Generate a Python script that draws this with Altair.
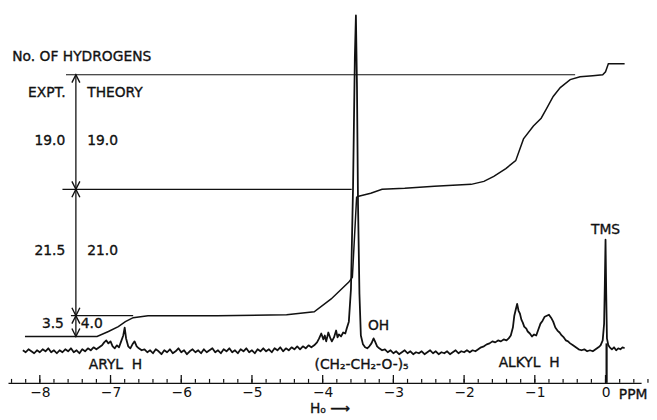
import altair as alt
import pandas as pd

INK = "#111111"
FONT = "DejaVu Sans"

# ---- spectrum trace (chemical shift in ppm, signal height in arbitrary units) ----
spec_ppm = [
    -8.24, -8.20, -8.16, -8.12, -8.08, -8.04, -8.00, -7.96, -7.92, -7.88, -7.84, -7.80,
    -7.76, -7.72, -7.68, -7.64, -7.60, -7.56, -7.52, -7.48, -7.44, -7.40, -7.36, -7.32,
    -7.28, -7.24, -7.20,
    -7.16, -7.12, -7.09, -7.06, -7.03, -7.00, -6.97, -6.94, -6.91, -6.88, -6.85, -6.82,
    -6.80, -6.78, -6.75, -6.72, -6.69, -6.66, -6.63, -6.60, -6.56,
    -6.52, -6.48, -6.44, -6.40, -6.36, -6.32, -6.28, -6.24, -6.20, -6.16, -6.12, -6.08,
    -6.04, -6.00, -5.96, -5.92, -5.88, -5.84, -5.80, -5.76, -5.72, -5.68, -5.64, -5.60,
    -5.56, -5.52, -5.48, -5.44, -5.40, -5.36, -5.32, -5.28, -5.24, -5.20, -5.16, -5.12,
    -5.08, -5.04, -5.00, -4.96, -4.92, -4.88, -4.84, -4.80, -4.76, -4.72, -4.68, -4.64,
    -4.60, -4.56, -4.52, -4.48, -4.44, -4.40, -4.36, -4.32, -4.28, -4.24, -4.20, -4.16,
    -4.12, -4.08, -4.05, -4.02, -3.99, -3.97, -3.95, -3.92, -3.89, -3.87, -3.84, -3.81,
    -3.79, -3.77, -3.74, -3.71, -3.68, -3.66, -3.63, -3.60, -3.57, -3.545, -3.53, -3.515,
    -3.50, -3.48, -3.46, -3.43, -3.40, -3.37, -3.34, -3.31, -3.28, -3.26, -3.23, -3.20,
    -3.16, -3.12,
    -3.08, -3.04, -3.00, -2.96, -2.92, -2.88, -2.84, -2.80, -2.76, -2.72, -2.68, -2.64,
    -2.60, -2.56, -2.52, -2.48, -2.44, -2.40, -2.36, -2.32, -2.28, -2.24, -2.20, -2.16,
    -2.12, -2.08, -2.04, -2.00, -1.96, -1.92, -1.88, -1.84,
    -1.80, -1.76, -1.72, -1.68, -1.64, -1.60, -1.56, -1.52, -1.48, -1.44, -1.40, -1.37,
    -1.34, -1.31, -1.29, -1.27, -1.25, -1.23, -1.21, -1.19, -1.17, -1.15, -1.12, -1.10,
    -1.07, -1.04, -1.01, -0.98, -0.95, -0.92, -0.89, -0.86, -0.83, -0.80, -0.77, -0.74,
    -0.71, -0.68, -0.65, -0.62, -0.59, -0.56, -0.53, -0.50, -0.46, -0.42, -0.38, -0.34,
    -0.30, -0.26, -0.22, -0.18, -0.14, -0.10, -0.07, -0.04, -0.02, -0.01, 0.00, 0.01,
    0.02, 0.04, 0.06, 0.09, 0.12, 0.15, 0.18, 0.21, 0.24, 0.27,
]
spec_h = [
    33, 31, 34, 32, 30, 33, 31, 34, 32, 35, 31, 33,
    30, 33, 31, 34, 32, 35, 31, 33, 30, 34, 32, 35,
    33, 36, 34,
    36, 38, 41, 43, 40, 42, 37, 35, 38, 36, 42, 48,
    56, 45, 37, 35, 39, 42, 37, 35, 33,
    34, 31, 33, 30, 34, 32, 29, 33, 31, 34, 30, 32,
    35, 31, 33, 29, 32, 34, 31, 33, 30, 34, 31, 33,
    35, 31, 33, 30, 34, 32, 35, 31, 33, 30, 34, 32,
    35, 31, 33, 30, 34, 32, 35, 32, 34, 31, 35, 33,
    36, 32, 35, 33, 36, 34, 37, 34, 37, 35, 38, 36,
    38, 41, 45, 50, 44, 48, 42, 51, 45, 42, 46, 53,
    46, 49, 47, 51, 50, 55, 62, 95, 200, 330, 372, 300,
    180, 90, 48, 39, 36, 35, 37, 40, 45, 42, 37, 35,
    33, 34,
    31, 33, 30, 32, 29, 31, 33, 30, 32, 29, 31, 30,
    32, 29, 31, 33, 30, 32, 29, 31, 30, 32, 29, 31,
    33, 30, 32, 31, 33, 31, 33, 32,
    34, 36, 37, 39, 40, 42, 41, 43, 42, 44, 43, 45,
    48, 56, 68, 74, 80, 73, 70, 64, 61, 57, 55, 52,
    50, 47, 49, 48, 54, 60, 63, 67, 68, 69, 66, 62,
    56, 53, 51, 48, 46, 43, 42, 40, 38, 36, 34, 33,
    34, 32, 33, 32, 34, 36, 38, 43, 60, 100, 145, 90,
    45, 38, 36, 34, 36, 33, 35, 34, 36, 35,
]

# ---- integral trace ----
integ_ppm = [-8.21, -7.19, -7.03, -6.89, -6.79, -6.68, -6.47, -5.49, -4.51, -4.12,
             -3.88, -3.63, -3.58, -3.52, -3.49, -3.32, -3.16, -2.84, -2.42, -1.90,
             -1.72, -1.58, -1.41, -1.27, -1.22, -1.16, -1.02, -0.91, -0.84, -0.74,
             -0.64, -0.50, -0.36, -0.18, -0.04, 0.00, 0.04, 0.27]
integ_h = [47, 47, 52, 57, 62, 66, 68, 68, 69, 72,
           85, 102, 107, 188, 189, 192, 196, 197, 199, 201,
           204, 209, 217, 225, 235, 247, 260, 268, 277, 290,
           299, 307, 310, 311, 312, 315, 323, 323]

# ---- integration step guides ----
guide_x1 = [-7.63, -7.68, -7.56]
guide_x2 = [-0.43, -3.59, -6.68]
guide_h = [312, 196, 68]
arrow_ppm = -7.49
arrow_top = 312
arrow_bottom = 47
heads_up = [312, 196, 68]
heads_down = [196, 68, 47]

# ---- axis ticks ----
major_ticks = [-8, -7, -6, -5, -4, -3, -2, -1, 0]
minor_ticks = [round(-8.4 + 0.2 * i, 1) for i in range(46)]

# ---- annotations ----
left_text = ["No. OF HYDROGENS", "THEORY", "19.0", "21.0", "4.0", "H\u2080 \u27f6"]
left_ppm = [-8.39, -7.33, -7.33, -7.33, -7.42, -4.18]
left_h = [330, 293, 245, 133, 60, -26]

right_text = ["19.0", "21.5", "3.5"]
right_ppm = [-7.64, -7.64, -7.66]
right_h = [245, 133, 60]

center_text = ["EXPT.", "ARYL\u00a0\u00a0H", "(CH\u2082-CH\u2082-O-)\u2085", "OH",
               "ALKYL\u00a0\u00a0H", "TMS", "PPM"]
center_ppm = [-7.90, -6.93, -3.45, -3.21, -1.08, 0.0, 0.39]
center_h = [293, 18, 18, 58, 20, 155, -12]

xs = alt.Scale(domain=[-8.45, 0.503], nice=False, zero=False)
ys = alt.Scale(domain=[0, 377], nice=False, zero=False)
xaxis = alt.Axis(values=major_ticks, ticks=False, grid=False, title=None,
                 domainColor=INK, domainWidth=1.5, labelFont=FONT, labelFontSize=14,
                 labelColor=INK, labelPadding=3, labelFlush=False)


def X(field="ppm"):
    return alt.X(f"{field}:Q", scale=xs, axis=xaxis)


def Y(field="h"):
    return alt.Y(f"{field}:Q", scale=ys, axis=None)


spec_df = pd.DataFrame({"ppm": spec_ppm, "h": spec_h})
integ_df = pd.DataFrame({"ppm": integ_ppm, "h": integ_h})
guide_df = pd.DataFrame({"ppm": guide_x1, "ppm2": guide_x2, "h": guide_h})

spectrum = alt.Chart(spec_df).mark_line(color=INK, strokeWidth=1.8, strokeJoin="round").encode(
    x=X(), y=Y())
integral = alt.Chart(integ_df).mark_line(color=INK, strokeWidth=1.5).encode(x=X(), y=Y())
guides = alt.Chart(guide_df).mark_rule(color=INK, strokeWidth=1.2).encode(
    x=X(), x2="ppm2:Q", y=Y())
vert = alt.Chart(pd.DataFrame({"ppm": [arrow_ppm], "h": [arrow_bottom], "h2": [arrow_top]})
                 ).mark_rule(color=INK, strokeWidth=1.3).encode(x=X(), y=Y(), y2="h2:Q")
tms_drop = alt.Chart(pd.DataFrame({"ppm": [0.015], "h": [0], "h2": [40]})
                     ).mark_rule(color=INK, strokeWidth=2.2).encode(x=X(), y=Y(), y2="h2:Q")

up_path = "M-0.5,1L0,0L0.5,1"
down_path = "M-0.5,-1L0,0L0.5,-1"
head_up = alt.Chart(pd.DataFrame({"ppm": [arrow_ppm] * 3, "h": heads_up})).mark_point(
    shape=up_path, size=260, filled=False, color=INK, strokeWidth=1.4, opacity=1).encode(x=X(), y=Y())
head_down = alt.Chart(pd.DataFrame({"ppm": [arrow_ppm] * 3, "h": heads_down})).mark_point(
    shape=down_path, size=260, filled=False, color=INK, strokeWidth=1.4, opacity=1).encode(x=X(), y=Y())

minor = alt.Chart(pd.DataFrame({"ppm": minor_ticks})).mark_rule(color=INK, strokeWidth=1.2).encode(
    x=X(), y=alt.value(377), y2=alt.value(373))
major = alt.Chart(pd.DataFrame({"ppm": major_ticks})).mark_rule(color=INK, strokeWidth=1.3).encode(
    x=X(), y=alt.value(377), y2=alt.value(369))


def texts(t, p, h, align):
    df = pd.DataFrame({"t": t, "ppm": p, "h": h})
    return alt.Chart(df).mark_text(font=FONT, fontSize=14, color=INK, align=align,
                                   baseline="middle", stroke=INK, strokeWidth=0.35
                                   ).encode(x=X(), y=Y(), text="t:N")


chart = alt.layer(
    spectrum, integral, guides, vert, tms_drop, head_up, head_down, minor, major,
    texts(left_text, left_ppm, left_h, "left"),
    texts(right_text, right_ppm, right_h, "right"),
    texts(center_text, center_ppm, center_h, "center"),
).properties(
    width=641, height=377,
    autosize=alt.AutoSizeParams(type="none"),
    padding={"left": 0, "top": 0, "right": 8, "bottom": 32},
).configure_view(stroke=None)

chart.save("out.html", embed_options={"renderer": "svg", "actions": False})
